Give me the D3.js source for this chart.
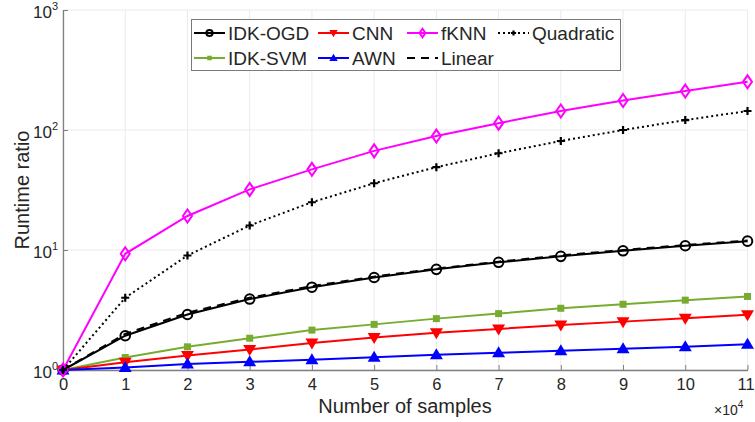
<!DOCTYPE html>
<html>
<head>
<meta charset="utf-8">
<script src="https://cdn.jsdelivr.net/npm/d3@7"></script>
<style>
  body { margin: 0; background: #fff; }
  text { font-family: "Liberation Sans", Arial, sans-serif; fill: #262626; }
</style>
</head>
<body>
<div id="chart"></div>
<script>
// samples (x 10^4)
var samples = [0, 1, 2, 3, 4, 5, 6, 7, 8, 9, 10, 11];

var idkOgd = [1, 1.93, 2.9, 3.9, 4.9, 5.9, 6.9, 7.9, 8.85, 9.85, 10.85, 11.85];
var idkSvm = [1, 1.27, 1.56, 1.84, 2.15, 2.4, 2.68, 2.95, 3.27, 3.53, 3.82, 4.1];
var cnn    = [1, 1.16, 1.32, 1.48, 1.68, 1.87, 2.04, 2.2, 2.37, 2.53, 2.7, 2.88];
var awn    = [1, 1.05, 1.12, 1.17, 1.22, 1.28, 1.34, 1.39, 1.45, 1.5, 1.56, 1.64];
var fknn   = [1, 9.3, 19.2, 32, 47, 67, 89, 114, 144, 176, 211, 252];
var quadratic = [1, 4, 9, 16, 25, 36, 49, 64, 81, 100, 121, 144];
var linear = [1, 2, 3, 4, 5, 6, 7, 8, 9, 10, 11, 12];

var xTicks = [0, 1, 2, 3, 4, 5, 6, 7, 8, 9, 10, 11];
var yTicks = [1, 10, 100, 1000];

var series = [
    { name: "IDK-OGD", values: idkOgd, color: "#000000", marker: "circle", dash: null },
    { name: "IDK-SVM", values: idkSvm, color: "#77ac30", marker: "square", dash: null },
    { name: "CNN", values: cnn, color: "#ff0000", marker: "triDown", dash: null },
    { name: "AWN", values: awn, color: "#0000ff", marker: "triUp", dash: null },
    { name: "fKNN", values: fknn, color: "#ff00ff", marker: "diamond", dash: null },
    { name: "Quadratic", values: quadratic, color: "#000000", marker: "plus", dash: "2,3" },
    { name: "Linear", values: linear, color: "#000000", marker: null, dash: "8,6" }
];

var margin = { top: 10, right: 7, bottom: 52, left: 63 },
    width = 755 - margin.left - margin.right,
    height = 422 - margin.top - margin.bottom;

var svg = d3.select("#chart").append("svg")
    .attr("width", 755)
    .attr("height", 422);

var canvas = svg.append("g")
    .attr("transform", "translate(" + margin.left + "," + margin.top + ")");

var xScale = d3.scaleLinear().domain([0, 11]).range([0, width - 0.5]);
var yScale = d3.scaleLog().domain([1, 1000]).range([height, 0]);

// grid
canvas.append("g")
    .selectAll("line.vg")
    .data(xTicks)
    .enter().append("line")
    .attr("x1", function (d) { return xScale(d); })
    .attr("x2", function (d) { return xScale(d); })
    .attr("y1", 0).attr("y2", height)
    .attr("stroke", "#ebebeb").attr("stroke-width", 1);

canvas.append("g")
    .selectAll("line.hg")
    .data(yTicks)
    .enter().append("line")
    .attr("x1", 0).attr("x2", xScale(11))
    .attr("y1", function (d) { return yScale(d); })
    .attr("y2", function (d) { return yScale(d); })
    .attr("stroke", "#ebebeb").attr("stroke-width", 1);

// axes
var xAxis = d3.axisBottom(xScale)
    .tickValues(xTicks)
    .tickSizeInner(-5).tickSizeOuter(0)
    .tickPadding(8);

var gx = canvas.append("g")
    .attr("transform", "translate(0," + height + ")")
    .call(xAxis);
gx.select(".domain").attr("stroke", "#808080").attr("stroke-width", 1.3);
gx.selectAll(".tick line").attr("stroke", "#808080");
gx.selectAll(".tick text").style("font-size", "16.5px").attr("fill", "#262626");
gx.selectAll(".tick text").filter(function (d) { return d === 11; }).attr("dx", -2);

var yAxis = d3.axisLeft(yScale)
    .tickValues(yTicks)
    .tickSizeInner(-5).tickSizeOuter(0)
    .tickFormat("");

var gy = canvas.append("g").call(yAxis);
gy.select(".domain").attr("stroke", "#808080").attr("stroke-width", 1.3);
gy.selectAll(".tick line").attr("stroke", "#808080");

gy.selectAll(".tick").each(function (d) {
    var t = d3.select(this).append("text")
        .attr("x", -5).attr("y", 7)
        .attr("text-anchor", "end")
        .style("font-size", "17px");
    t.append("tspan").text("10");
    t.append("tspan").attr("dy", -8).style("font-size", "11px").text(Math.round(Math.log10(d)));
});

// axis labels
svg.append("text")
    .attr("x", 405).attr("y", 413)
    .attr("text-anchor", "middle")
    .style("font-size", "20px")
    .text("Number of samples");

var mult = svg.append("text")
    .attr("x", 714).attr("y", 415)
    .style("font-size", "14px")
    .attr("fill", "#262626");
mult.append("tspan").text("\u00d710");
mult.append("tspan").attr("dy", -7).style("font-size", "10px").text("4");

svg.append("text")
    .attr("transform", "translate(29," + (margin.top + height / 2) + ") rotate(-90)")
    .attr("text-anchor", "middle")
    .style("font-size", "20px")
    .text("Runtime ratio");

// lines
var line = d3.line()
    .x(function (d, i) { return xScale(samples[i]); })
    .y(function (d) { return yScale(d); });

function drawMarker(g, type, color, x, y, k) {
    k = k || 1;
    if (type === "circle") {
        g.append("circle").attr("cx", x).attr("cy", y).attr("r", 4.8 * k)
            .attr("fill", "none").attr("stroke", color).attr("stroke-width", 2);
    } else if (type === "square") {
        g.append("rect").attr("x", x - 3.5 * k).attr("y", y - 3.5 * k)
            .attr("width", 7 * k).attr("height", 7 * k).attr("fill", color);
    } else if (type === "triDown") {
        g.append("path").attr("d", "M" + (x - 6.5 * k) + "," + (y - 4.5 * k) + "L" + (x + 6.5 * k) + "," + (y - 4.5 * k) + "L" + x + "," + (y + 6.5 * k) + "Z")
            .attr("fill", color);
    } else if (type === "triUp") {
        g.append("path").attr("d", "M" + (x - 6.5 * k) + "," + (y + 4.5 * k) + "L" + (x + 6.5 * k) + "," + (y + 4.5 * k) + "L" + x + "," + (y - 6.5 * k) + "Z")
            .attr("fill", color);
    } else if (type === "diamond") {
        g.append("path").attr("d", "M" + x + "," + (y - 6.5 * k) + "L" + (x + 4.5 * k) + "," + y + "L" + x + "," + (y + 6.5 * k) + "L" + (x - 4.5 * k) + "," + y + "Z")
            .attr("fill", "none").attr("stroke", color).attr("stroke-width", 2);
    } else if (type === "plus") {
        g.append("path").attr("d", "M" + (x - 4 * k) + "," + y + "H" + (x + 4 * k) + "M" + x + "," + (y - 4 * k) + "V" + (y + 4 * k))
            .attr("stroke", color).attr("stroke-width", 2.2);
    }
}

series.forEach(function (s) {
    var g = canvas.append("g");
    g.append("path")
        .datum(s.values)
        .attr("d", line)
        .attr("fill", "none")
        .attr("stroke", s.color)
        .attr("stroke-width", 2)
        .attr("stroke-dasharray", s.dash);
    if (s.marker) {
        s.values.forEach(function (v, i) {
            drawMarker(g, s.marker, s.color, xScale(samples[i]), yScale(v));
        });
    }
});

// legend
var legend = svg.append("g");
legend.append("rect")
    .attr("x", 191.5).attr("y", 19.5)
    .attr("width", 429).attr("height", 51)
    .attr("fill", "#fff").attr("stroke", "#7a7a7a").attr("stroke-width", 1);

var legendPos = {
    "IDK-OGD": [194, 33], "CNN": [318, 33], "fKNN": [407, 33], "Quadratic": [498, 33],
    "IDK-SVM": [194, 58], "AWN": [318, 58], "Linear": [407, 58]
};

series.forEach(function (s) {
    var p = legendPos[s.name];
    var lg = legend.append("g");
    lg.append("line")
        .attr("x1", p[0]).attr("x2", p[0] + 31)
        .attr("y1", p[1]).attr("y2", p[1])
        .attr("stroke", s.color).attr("stroke-width", 2)
        .attr("stroke-dasharray", s.dash);
    if (s.marker) {
        drawMarker(lg, s.marker, s.color, p[0] + 15.5, p[1], 0.65);
    }
    lg.append("text")
        .attr("x", p[0] + 34).attr("y", p[1] + 7)
        .style("font-size", "19px")
        .attr("fill", "#000")
        .text(s.name);
});
</script>
</body>
</html>
